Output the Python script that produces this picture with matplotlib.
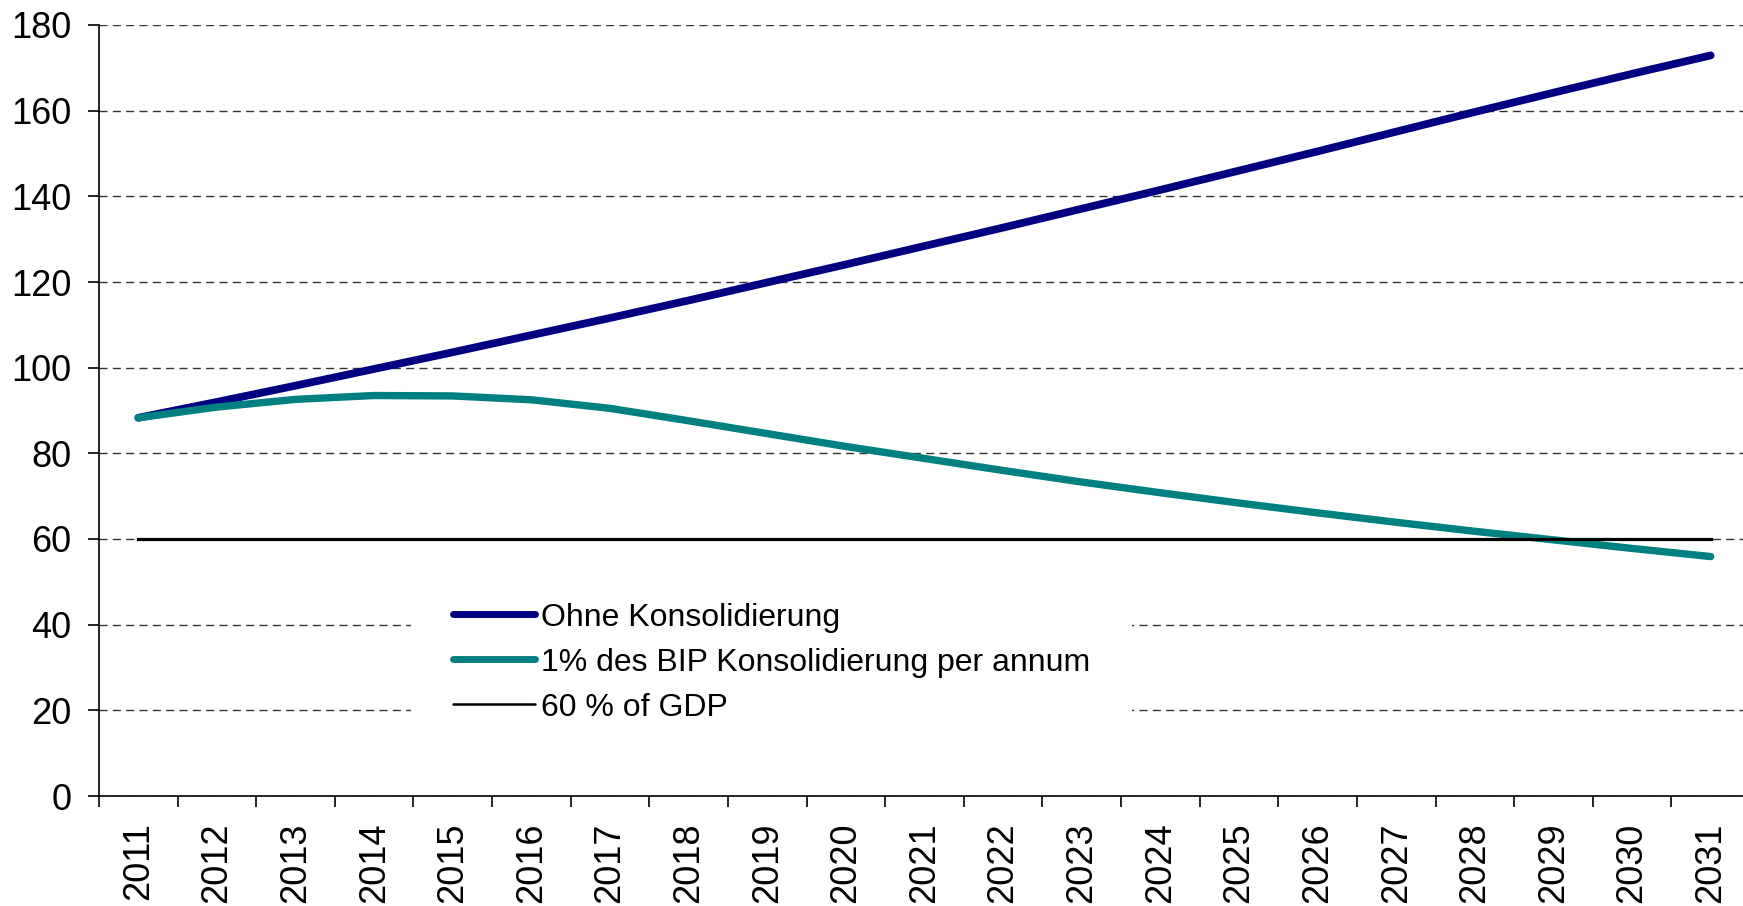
import matplotlib
matplotlib.use("Agg")
import matplotlib.pyplot as plt
import numpy as np

plt.rcParams['font.family'] = ['Liberation Sans', 'DejaVu Sans']

years = [str(y) for y in range(2011, 2032)]
ohne = [88.3, 92.0, 95.8, 99.7, 103.6, 107.6, 111.6, 115.7, 119.9, 124.1,
        128.4, 132.7, 137.1, 141.5, 146.0, 150.5, 155.1, 159.7, 164.2, 168.6, 172.9]
konsol = [88.3, 90.8, 92.6, 93.5, 93.4, 92.5, 90.5, 87.6, 84.6, 81.6,
          78.8, 76.0, 73.3, 70.8, 68.4, 66.1, 63.9, 61.8, 59.8, 57.8, 55.9]
gdp60 = [60] * len(years)
labels = ["Ohne Konsolidierung", "1% des BIP Konsolidierung per annum", "60 % of GDP"]
yticks = list(range(0, 181, 20))

W, H = 1743, 906
fig = plt.figure(figsize=(W / 100, H / 100), dpi=100)
left, bottom, top, right = 99, 796, 25, 1750
ax = fig.add_axes([left / W, 1 - bottom / H, (right - left) / W, (bottom - top) / H])

x = np.arange(len(years))
ax.plot(x, ohne, color='#000080', lw=5.6, solid_capstyle='round', label=labels[0], zorder=3)
ax.plot(x, konsol, color='#008080', lw=5.3, solid_capstyle='round', label=labels[1], zorder=3)
ax.plot(x, gdp60, color='black', lw=2.3, label=labels[2], zorder=4)

ax.set_xlim(-0.5, len(years) - 0.5)
ax.set_ylim(0, 180)
ax.set_yticks(yticks)
ax.set_yticklabels([str(v) for v in yticks], fontsize=26)
ax.set_xticks(np.arange(len(years) + 1) - 0.5)
ax.set_xticklabels([])
ax.set_xticks(x, minor=True)
ax.set_xticklabels(years, minor=True, rotation=90, fontsize=26)
ax.tick_params(axis='x', which='minor', length=0, pad=19)
ax.tick_params(axis='x', which='major', length=8, width=1.2, direction='out')
ax.tick_params(axis='y', length=8, width=1.2, direction='out', pad=12)

ax.grid(axis='y', color='#333333', lw=1.0, linestyle=(0, (5.8, 3.8)), zorder=1)
for s in ['top', 'right']:
    ax.spines[s].set_visible(False)
for s in ['left', 'bottom']:
    ax.spines[s].set_linewidth(1.2)
ax.set_axisbelow(True)

leg = ax.legend(loc='upper left', bbox_to_anchor=(411 / W, 1 - 561 / H),
                bbox_transform=fig.transFigure, fontsize=23, frameon=True,
                fancybox=False, edgecolor='none', facecolor='white', framealpha=1,
                handlelength=2.58, handletextpad=0.19, borderpad=1.3,
                labelspacing=0.47, borderaxespad=0)
for h in leg.get_lines():
    h.set_solid_capstyle('round')
leg.get_lines()[0].set_linewidth(5.0)
leg.get_lines()[1].set_linewidth(5.0)
leg.get_lines()[2].set_linewidth(1.8)
leg.set_zorder(2)

fig.savefig('out.png', dpi=100)
